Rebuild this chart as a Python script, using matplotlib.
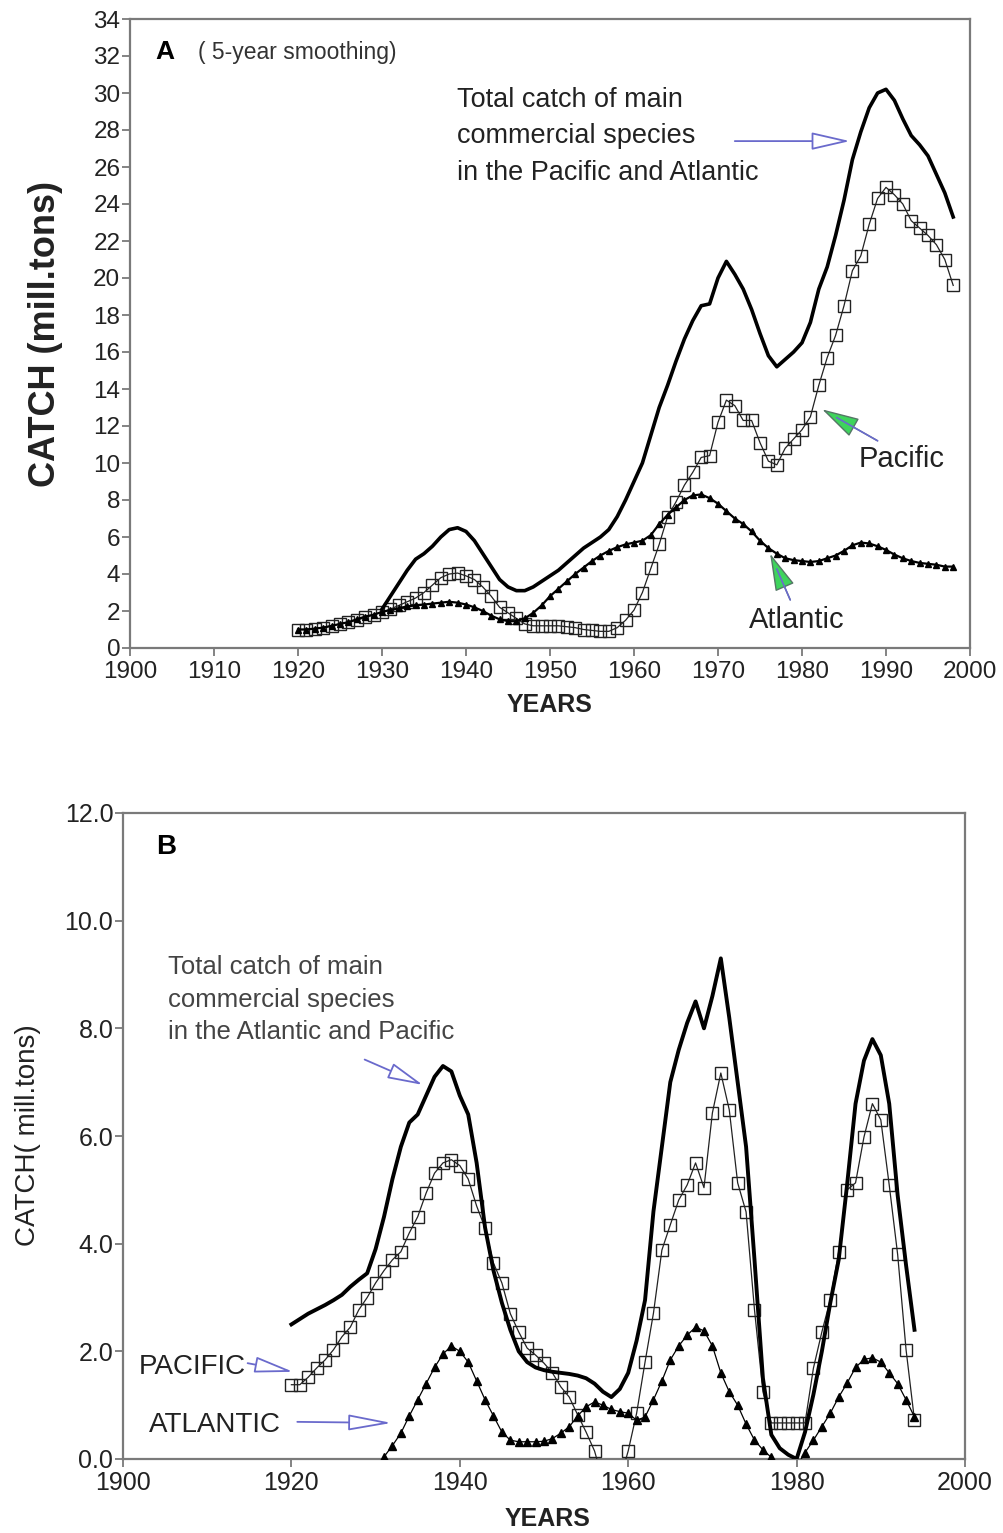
import matplotlib
matplotlib.use("Agg")
import matplotlib.pyplot as plt
import numpy as np

plt.rcParams['font.family'] = ['Liberation Sans', 'DejaVu Sans']

# ---------------- Panel A data (5-year smoothing, mill. tons) ----------------
years_a = list(range(1920, 1999))
total_years_a = list(range(1930, 1999))

total_a = [2.1, 2.8, 3.5, 4.2, 4.8, 5.1, 5.5, 6.0, 6.4, 6.5,
           6.3, 5.8, 5.1, 4.4, 3.7, 3.3, 3.1, 3.1, 3.3, 3.6,
           3.9, 4.2, 4.6, 5.0, 5.4, 5.7, 6.0, 6.4, 7.1, 8.0,
           9.0, 10.0, 11.5, 13.0, 14.2, 15.5, 16.7, 17.7, 18.5, 18.6,
           20.0, 20.9, 20.2, 19.4, 18.3, 17.0, 15.8, 15.2, 15.6, 16.0,
           16.5, 17.6, 19.4, 20.6, 22.3, 24.2, 26.4, 27.9, 29.2, 30.0,
           30.2, 29.6, 28.6, 27.7, 27.2, 26.6, 25.6, 24.6, 23.3]

pacific_a = [1.0, 1.0, 1.05, 1.1, 1.2, 1.3, 1.4, 1.5, 1.65, 1.8,
             1.95, 2.1, 2.3, 2.5, 2.7, 3.0, 3.4, 3.8, 4.0, 4.05,
             3.9, 3.7, 3.3, 2.8, 2.2, 1.9, 1.6, 1.3, 1.2, 1.2,
             1.2, 1.2, 1.15, 1.1, 1.0, 0.95, 0.9, 0.9, 1.1, 1.5,
             2.05, 3.0, 4.3, 5.6, 7.1, 7.9, 8.8, 9.5, 10.3, 10.4,
             12.2, 13.4, 13.1, 12.3, 12.3, 11.1, 10.1, 9.9, 10.8, 11.3,
             11.8, 12.5, 14.2, 15.7, 16.9, 18.5, 20.4, 21.2, 22.9, 24.3,
             24.9, 24.5, 24.0, 23.1, 22.7, 22.3, 21.8, 21.0, 19.6]

atlantic_a = [1.0, 1.0, 1.05, 1.1, 1.2, 1.3, 1.4, 1.55, 1.7, 1.8,
              1.95, 2.05, 2.15, 2.25, 2.3, 2.35, 2.4, 2.45, 2.5, 2.45,
              2.35, 2.2, 2.0, 1.75, 1.55, 1.45, 1.45, 1.6, 1.9, 2.3,
              2.8, 3.2, 3.6, 4.0, 4.35, 4.7, 5.0, 5.25, 5.45, 5.6,
              5.7, 5.8, 6.1, 6.7, 7.2, 7.6, 8.0, 8.25, 8.3, 8.1,
              7.8, 7.4, 7.0, 6.7, 6.3, 5.8, 5.4, 5.1, 4.85, 4.75,
              4.7, 4.65, 4.7, 4.85, 5.0, 5.25, 5.55, 5.7, 5.65, 5.5,
              5.3, 5.05, 4.85, 4.7, 4.6, 4.55, 4.5, 4.4, 4.4]

# ---------------- Panel B data (mill. tons) ----------------
years_b = list(range(1920, 1995))
atlantic_years_b = list(range(1931, 1995))

total_b = [2.5, 2.6, 2.7, 2.78, 2.86, 2.95, 3.05, 3.2, 3.33, 3.45,
           3.9, 4.5, 5.2, 5.8, 6.25, 6.4, 6.75, 7.1, 7.3, 7.2,
           6.75, 6.4, 5.5, 4.3, 3.5, 2.9, 2.4, 2.0, 1.8, 1.7,
           1.65, 1.62, 1.6, 1.58, 1.55, 1.5, 1.4, 1.25, 1.15, 1.3,
           1.6, 2.2, 2.95, 4.6, 5.8, 7.0, 7.6, 8.1, 8.5, 8.0,
           8.6, 9.3, 8.2, 7.0, 5.8, 3.7, 1.5, 0.45, 0.2, 0.08,
           0.0, 0.5, 1.2, 2.0, 2.9, 3.7, 5.1, 6.6, 7.4, 7.8,
           7.5, 6.6, 4.9, 3.6, 2.4]

pacific_b = [1.38, 1.38, 1.52, 1.69, 1.84, 2.03, 2.27, 2.45, 2.77, 3.0,
             3.27, 3.5, 3.7, 3.85, 4.2, 4.5, 4.94, 5.31, 5.5, 5.56,
             5.45, 5.2, 4.7, 4.29, 3.64, 3.27, 2.7, 2.36, 2.06, 1.93,
             1.78, 1.6, 1.34, 1.15, 0.82, 0.5, 0.15, -0.4, -0.6, -0.4,
             0.15, 0.85, 1.8, 2.71, 3.88, 4.35, 4.81, 5.09, 5.5, 5.04,
             6.43, 7.17, 6.49, 5.13, 4.59, 2.77, 1.25, 0.67, 0.67, 0.67,
             0.67, 0.67, 1.69, 2.36, 2.96, 3.85, 5.0, 5.13, 5.98, 6.6,
             6.3, 5.09, 3.8, 2.03, 0.72]

atlantic_b = [0.04, 0.25, 0.48, 0.8, 1.1, 1.4, 1.7, 1.95, 2.1,
              2.0, 1.8, 1.45, 1.1, 0.8, 0.5, 0.35, 0.32, 0.32, 0.32,
              0.33, 0.38, 0.48, 0.6, 0.8, 0.97, 1.06, 1.0, 0.92, 0.88,
              0.85, 0.72, 0.78, 1.1, 1.45, 1.84, 2.1, 2.3, 2.45, 2.38,
              2.1, 1.6, 1.25, 1.0, 0.65, 0.35, 0.17, 0.03, -0.2, -0.3,
              -0.15, 0.12, 0.35, 0.6, 0.85, 1.15, 1.41, 1.7, 1.85, 1.88,
              1.8, 1.6, 1.4, 1.1, 0.78]

ARROW = '#6a6acc'
GREEN = '#3ed45c'
SPINE = '#7a7a7a'
TXT = '#222222'


def style_axes(ax, fs):
    for s in ax.spines.values():
        s.set_color(SPINE)
        s.set_linewidth(1.6)
    ax.tick_params(direction='out', length=6, width=1.3, color=SPINE,
                   labelsize=fs, labelcolor=TXT, top=False, right=False)
    ax.tick_params(axis='y', pad=1)
    ax.tick_params(axis='x', pad=3)


def hollow_arrow(ax, tail, tip, hl, hw):
    ax.annotate('', xy=tip, xytext=tail,
                arrowprops=dict(arrowstyle=f'-|>,head_length={hl},head_width={hw}',
                                mutation_scale=10, fc='white', ec=ARROW, lw=1.3,
                                shrinkA=0, shrinkB=0))


def green_arrow(ax, tail, tip):
    ax.annotate('', xy=tip, xytext=tail,
                arrowprops=dict(arrowstyle='-|>,head_length=2.4,head_width=0.65',
                                mutation_scale=10, fc=GREEN, ec='#557766', lw=1.0,
                                shrinkA=0, shrinkB=0))
    ax.annotate('', xy=tip, xytext=tail,
                arrowprops=dict(arrowstyle='-', color=ARROW, lw=1.2,
                                shrinkA=0, shrinkB=12))


fig = plt.figure(figsize=(10.04, 15.33), dpi=100)

# ---------------- Panel A ----------------
ax1 = fig.add_axes([130 / 1004, 1 - 648 / 1533, 840 / 1004, 629 / 1533])
ax1.plot(total_years_a, total_a, color='black', lw=2.6, zorder=4)
ax1.plot(years_a, pacific_a, color='#222222', lw=0.9, marker='s', ms=8,
         mfc='none', mec='#222222', mew=1.0, zorder=3)
ax1.plot(years_a, atlantic_a, color='black', lw=1.6, marker='^', ms=5,
         mfc='black', mec='black', zorder=3)
ax1.set_xlim(1900, 2000)
ax1.set_ylim(0, 34)
ax1.set_xticks(range(1900, 2001, 10))
ax1.set_yticks(range(0, 35, 2))
style_axes(ax1, 17.5)

ax1.text(1904.2, 32.2, 'A', fontsize=19, fontweight='bold', ha='center', va='center')
ax1.text(1908.1, 32.2, '( 5-year smoothing)', fontsize=16.5, color='#333333',
         ha='left', va='center')
for yv, line in zip([29.6, 27.65, 25.7],
                    ['Total catch of main', 'commercial species',
                     'in the Pacific and Atlantic']):
    ax1.text(1938.9, yv, line, fontsize=19.5, color=TXT, ha='left', va='center')
hollow_arrow(ax1, (1972.0, 27.4), (1985.7, 27.4), 2.4, 0.55)

green_arrow(ax1, (1989.0, 11.2), (1982.4, 12.9))
ax1.text(1991.9, 10.2, 'Pacific', fontsize=21, color=TXT, ha='center', va='center')
green_arrow(ax1, (1978.6, 2.6), (1976.2, 5.1))
ax1.text(1979.4, 1.5, 'Atlantic', fontsize=21, color=TXT, ha='center', va='center')

fig.text(46 / 1004, 1 - 334 / 1533, 'CATCH (mill.tons)', rotation=90, fontsize=26,
         fontweight='bold', ha='center', va='center', color=TXT)
fig.text(550 / 1004, 1 - 705 / 1533, 'YEARS', fontsize=18, fontweight='bold',
         ha='center', va='center', color=TXT)

# ---------------- Panel B ----------------
ax2 = fig.add_axes([123 / 1004, 1 - 1459 / 1533, 842 / 1004, 646 / 1533])
ax2.plot(years_b, total_b, color='black', lw=2.8, zorder=4)
ax2.plot(years_b, pacific_b, color='#222222', lw=0.9, marker='s', ms=8,
         mfc='none', mec='#222222', mew=1.0, zorder=3)
ax2.plot(atlantic_years_b, atlantic_b, color='black', lw=0.9, marker='^', ms=6,
         mfc='black', mec='black', zorder=3)
ax2.set_xlim(1900, 2000)
ax2.set_ylim(0, 12)
ax2.set_xticks(range(1900, 2001, 20))
ax2.set_yticks(np.arange(0, 12.1, 2))
ax2.set_yticklabels([f'{v:.1f}' for v in np.arange(0, 12.1, 2)])
style_axes(ax2, 18)

ax2.text(1905.1, 11.36, 'B', fontsize=20, fontweight='bold', ha='center', va='center')
for yv, line in zip([9.14, 8.53, 7.94],
                    ['Total catch of main', 'commercial species',
                     'in the Atlantic and Pacific']):
    ax2.text(1905.3, yv, line, fontsize=18.5, color='#444444', ha='left', va='center')
hollow_arrow(ax2, (1928.7, 7.42), (1935.6, 6.95), 2.2, 0.5)

ax2.text(1908.2, 1.71, 'PACIFIC', fontsize=20, color=TXT, ha='center', va='center')
hollow_arrow(ax2, (1914.8, 1.78), (1920.2, 1.62), 2.4, 0.5)
ax2.text(1910.9, 0.63, 'ATLANTIC', fontsize=20, color=TXT, ha='center', va='center')
hollow_arrow(ax2, (1920.7, 0.69), (1931.9, 0.67), 2.7, 0.5)

fig.text(28 / 1004, 1 - 1135 / 1533, 'CATCH( mill.tons)', rotation=90, fontsize=20,
         ha='center', va='center', color=TXT)
fig.text(548 / 1004, 1 - 1519 / 1533, 'YEARS', fontsize=18, fontweight='bold',
         ha='center', va='center', color=TXT)

fig.savefig('out.png', dpi=100)
